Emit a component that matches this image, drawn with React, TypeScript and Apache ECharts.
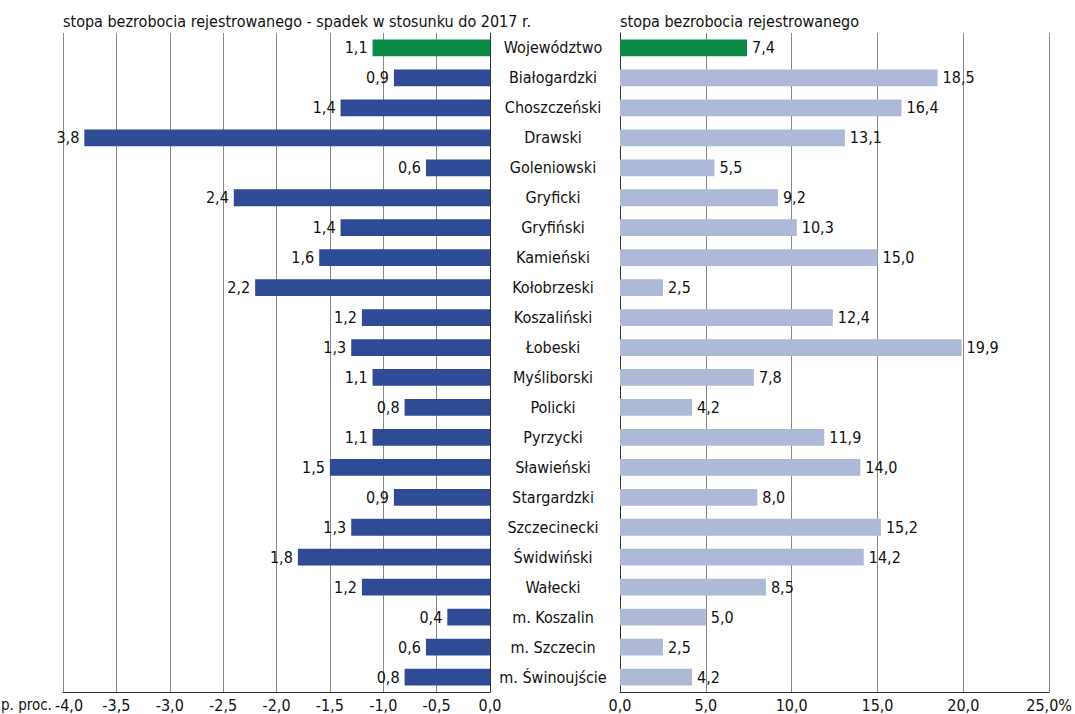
import React, { useEffect, useRef } from "react";
import * as echarts from "echarts";

const categories = [
  "Województwo", "Białogardzki", "Choszczeński", "Drawski", "Goleniowski", "Gryficki",
  "Gryfiński", "Kamieński", "Kołobrzeski", "Koszaliński", "Łobeski", "Myśliborski",
  "Policki", "Pyrzycki", "Sławieński", "Stargardzki", "Szczecinecki", "Świdwiński",
  "Wałecki", "m. Koszalin", "m. Szczecin", "m. Świnoujście",
];
const decline = [1.1, 0.9, 1.4, 3.8, 0.6, 2.4, 1.4, 1.6, 2.2, 1.2, 1.3, 1.1, 0.8, 1.1, 1.5, 0.9, 1.3, 1.8, 1.2, 0.4, 0.6, 0.8];
const rate = [7.4, 18.5, 16.4, 13.1, 5.5, 9.2, 10.3, 15.0, 2.5, 12.4, 19.9, 7.8, 4.2, 11.9, 14.0, 8.0, 15.2, 14.2, 8.5, 5.0, 2.5, 4.2];
const leftTitle = "stopa bezrobocia rejestrowanego - spadek w stosunku do 2017 r.";
const rightTitle = "stopa bezrobocia rejestrowanego";
const unitLabel = "p. proc.";

const FONT = "'DejaVu Sans Condensed', 'Liberation Sans Narrow', sans-serif";
const GREEN = "#0a8a45";
const DARK = "#2f4b95";
const LIGHT = "#aeb9d8";
const fmt = (v: number) => Math.abs(v).toFixed(1).replace(".", ",");

export default function App() {
  const ref = useRef<HTMLDivElement>(null);
  useEffect(() => {
    document.body.style.margin = "0";
    const chart = echarts.init(ref.current!, null, { renderer: "svg" });
    const axisText = { color: "#111", fontFamily: FONT, fontSize: 16 };
    chart.setOption({
      animation: false,
      textStyle: { fontFamily: FONT },
      grid: [
        { left: 63, right: 585, top: 33, bottom: 22 },
        { left: 620, right: 23, top: 33, bottom: 22 },
      ],
      xAxis: [
        {
          gridIndex: 0, type: "value", min: -4, max: 0, interval: 0.5,
          axisLine: { show: true, lineStyle: { color: "#333" } },
          axisTick: { show: false },
          splitLine: { show: true, lineStyle: { color: "#888" } },
          axisLabel: {
            ...axisText, margin: 5,
            formatter: (v: number) => {
              const s = v.toFixed(1).replace(".", ",");
              return v === -4 ? `{first|${s}}` : s;
            },
            rich: { first: { ...axisText, padding: [0, 0, 0, 12] } },
          },
        },
        {
          gridIndex: 1, type: "value", min: 0, max: 25, interval: 5,
          axisLine: { show: true, lineStyle: { color: "#333" } },
          axisTick: { show: false },
          splitLine: { show: true, lineStyle: { color: "#888" } },
          axisLabel: {
            ...axisText, margin: 5,
            formatter: (v: number) => v.toFixed(1).replace(".", ",") + (v === 25 ? "%" : ""),
          },
        },
      ],
      yAxis: [
        {
          gridIndex: 0, type: "category", data: categories, inverse: true, position: "right",
          axisLine: { show: true, lineStyle: { color: "#333" } },
          axisTick: { show: false },
          axisLabel: { ...axisText, align: "center", margin: 63 },
        },
        {
          gridIndex: 1, type: "category", data: categories, inverse: true,
          axisLine: { show: true, lineStyle: { color: "#333" } },
          axisTick: { show: false },
          axisLabel: { show: false },
        },
      ],
      series: [
        {
          type: "bar", xAxisIndex: 0, yAxisIndex: 0, barWidth: "56%",
          data: decline.map((v, i) => ({ value: -v, itemStyle: { color: i === 0 ? GREEN : DARK } })),
          label: { show: true, position: "left", distance: 5, ...axisText, formatter: (p: any) => fmt(p.value) },
        },
        {
          type: "bar", xAxisIndex: 1, yAxisIndex: 1, barWidth: "56%",
          data: rate.map((v, i) => ({ value: v, itemStyle: { color: i === 0 ? GREEN : LIGHT } })),
          label: { show: true, position: "right", distance: 5, ...axisText, formatter: (p: any) => fmt(p.value) },
        },
      ],
      graphic: [
        { type: "text", left: 63, top: 13, style: { text: leftTitle, fill: "#111", font: `16px ${FONT}` } },
        { type: "text", left: 620, top: 13, style: { text: rightTitle, fill: "#111", font: `16px ${FONT}` } },
        { type: "text", left: 1, top: 697, style: { text: unitLabel, fill: "#111", font: `15px ${FONT}` } },
      ],
    });
    return () => chart.dispose();
  }, []);
  return <div ref={ref} style={{ width: 1075, height: 714 }} />;
}
